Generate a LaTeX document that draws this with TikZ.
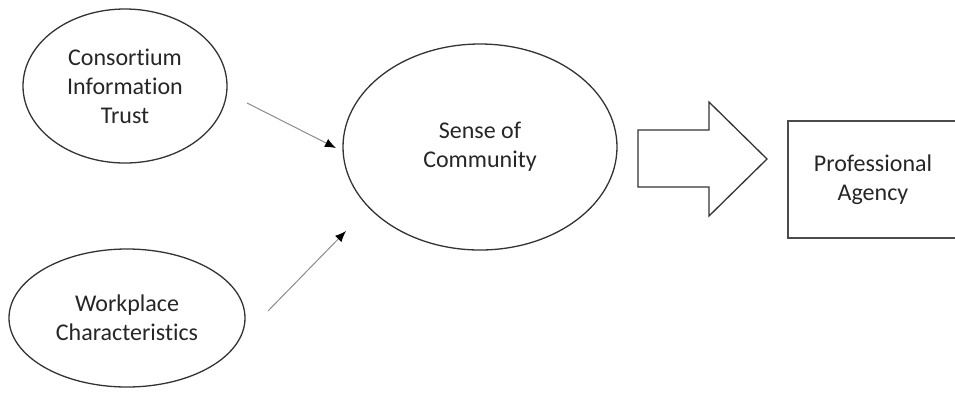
\documentclass[tikz,border=0pt]{standalone}
\usepackage{fontspec}
\setmainfont{Carlito}[Ligatures=NoCommon]
\usetikzlibrary{shapes.geometric, arrows.meta}

\begin{document}
\begin{tikzpicture}[x=0.5pt, y=-0.5pt,
    every node/.style={align=center, text=black!85, font=\fontsize{12}{14.5}\selectfont},
    construct/.style={draw=black!80, line width=0.65pt, ellipse, inner sep=0pt},
    outcome/.style={draw=black!70, line width=0.65pt, rectangle, inner sep=0pt,
        minimum width=85pt, minimum height=58.5pt},
    effect/.style={draw=black!45, line width=0.5pt, -{Latex[black, length=5.5pt, width=4.5pt]}}]

    \useasboundingbox (0,0) rectangle (955,393);

    \node[construct, minimum width=102pt, minimum height=77pt] (trust) at (125,86)
        {Consortium\\Information\\Trust};


    \node[construct, minimum width=118pt, minimum height=69pt] (work) at (127,318)
        {Workplace\\Characteristics};


    \node[construct, minimum width=137pt, minimum height=103pt] (community) at (480,147)
        {Sense of\\Community};


    \node[outcome] (agency) at (873,179.5) {Professional\\Agency};


    \coordinate (trustout) at (247,103);

    \coordinate (trustin) at (336,148);

    \coordinate (workout) at (268,311);

    \coordinate (workin) at (346,231);

    \draw[effect] (trustout) -- (trustin);

    \draw[effect] (workout) -- (workin);


    \draw[draw=black!80, line width=0.65pt, line join=miter]
        (638,130) -- (709,130) -- (709,102) -- (767,159)
        -- (709,216) -- (709,187) -- (638,187) -- cycle;

\end{tikzpicture}
\end{document}
